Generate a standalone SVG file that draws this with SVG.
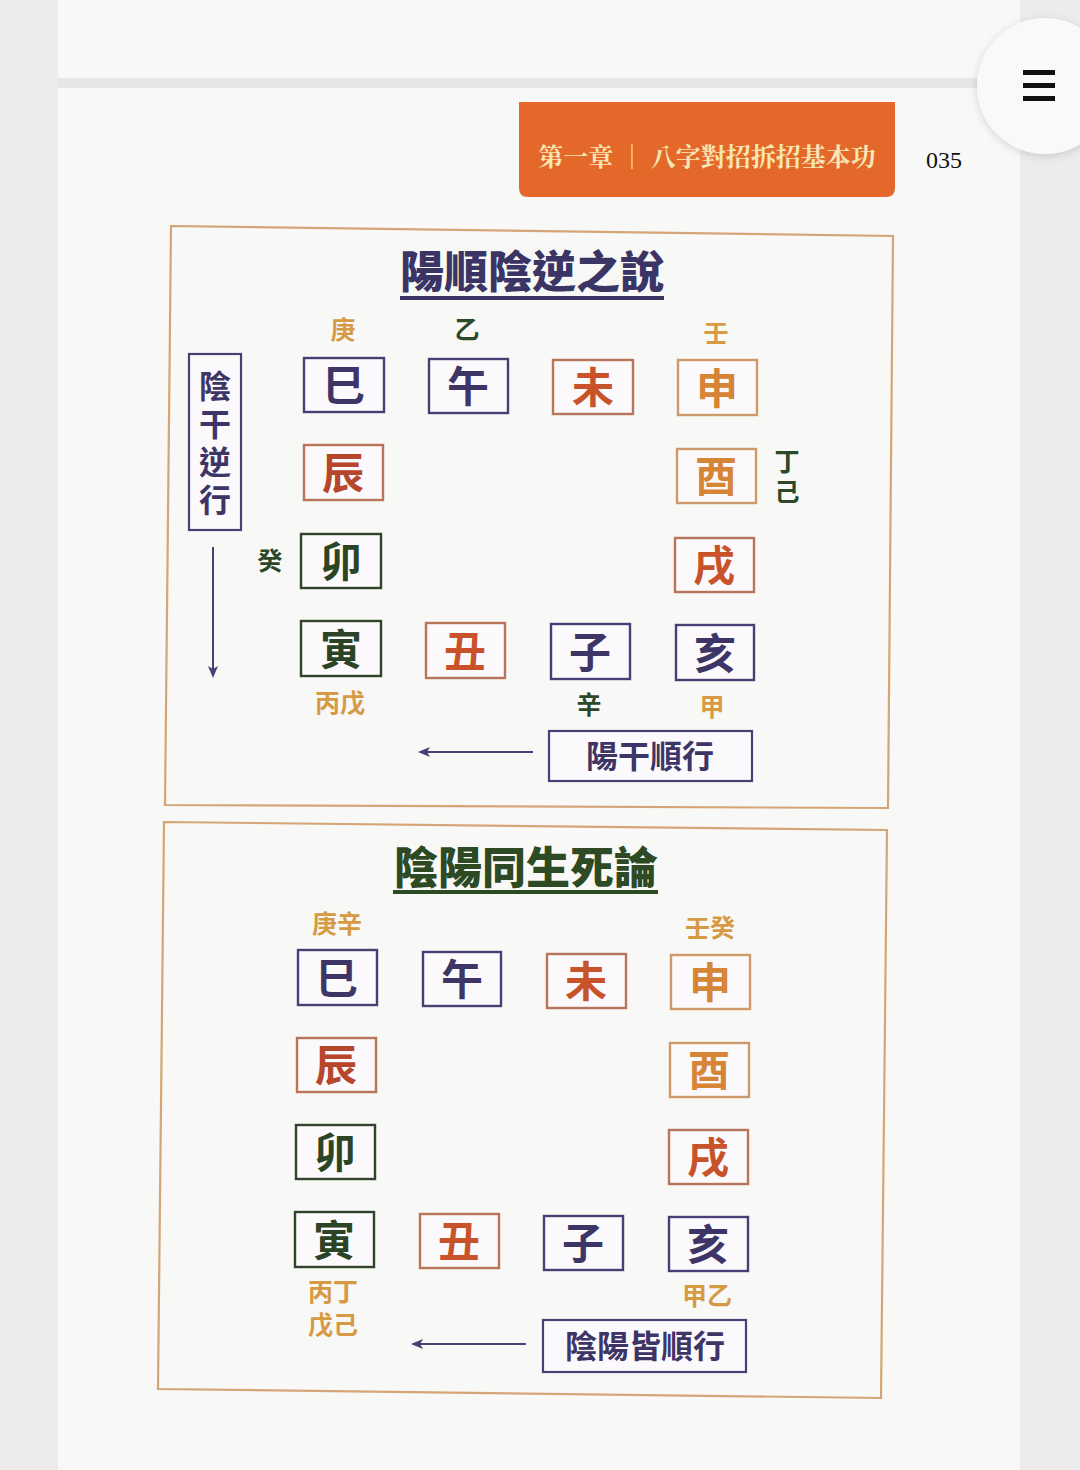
<svg xmlns="http://www.w3.org/2000/svg" width="1080" height="1470" viewBox="0 0 1080 1470">
<defs>
<style>
.cjk{font-family:"Noto Sans CJK TC","Noto Sans CJK SC",sans-serif;}
.frame{fill:none;stroke:#d4a577;stroke-width:2.2;}
.box{fill:#fbf9fb;stroke-width:2.4;}
.ch{font-family:"Noto Sans CJK TC","Noto Sans CJK SC",sans-serif;font-size:42px;font-weight:700;text-anchor:middle;}
.stem{font-family:"Noto Sans CJK TC","Noto Sans CJK SC",sans-serif;font-size:25px;font-weight:700;text-anchor:middle;}
.navy{stroke:#4a3f74;} .navyT{fill:#3e3567;}
.green{stroke:#2f4429;} .greenT{fill:#2c4426;}
.brown{stroke:#b8755a;} .brownT{fill:#b7472c;}
.tan{stroke:#cf9a6a;} .tanT{fill:#d68436;}
.redT{fill:#c8532a;}
.gold{fill:#d69a45;}
.dg{fill:#2d4729;}
.arrow{stroke:#4a3f74;stroke-width:2;fill:none;}
</style>
<marker id="ah" markerWidth="12" markerHeight="10" refX="10" refY="5" orient="auto" markerUnits="userSpaceOnUse">
<path d="M0,0 L12,5 L0,10 L3,5 Z" fill="#4a3f74"/>
</marker>
<filter id="sh" x="-30%" y="-30%" width="160%" height="160%">
<feDropShadow dx="0" dy="2" stdDeviation="4" flood-color="#000" flood-opacity="0.15"/>
</filter>
</defs>

<!-- page background -->
<rect x="0" y="0" width="1080" height="1470" fill="#ececec"/>
<rect x="58" y="0" width="962" height="1470" fill="#f8f8f6"/>
<rect x="58" y="78" width="922" height="10" fill="#e6e6e6"/>

<!-- menu button -->
<g id="menu">
<circle cx="1045" cy="86" r="68" fill="#f9f9f9" filter="url(#sh)"/>
<rect x="1023" y="70" width="32" height="5" fill="#111"/>
<rect x="1023" y="83" width="32" height="5" fill="#111"/>
<rect x="1023" y="96" width="32" height="5" fill="#111"/>
</g>

<!-- header -->
<g id="header">
<path d="M519,102 H895 V188 Q895,197 886,197 H528 Q519,197 519,188 Z" fill="#e4682a"/>
<text x="707" y="166" font-family="'Noto Serif CJK TC','Liberation Serif','Noto Sans CJK TC',serif" font-size="25" font-weight="700" fill="#f6e6b4" text-anchor="middle">第一章 ｜ 八字對招拆招基本功</text>
<text x="944" y="168" font-family="'Liberation Serif',serif" font-size="24" fill="#111" text-anchor="middle">035</text>
</g>

<!-- Panel 1 -->
<g id="panel1">
<path class="frame" d="M171,226 L893,236 L888,808 L165,805 Z"/>
<text class="cjk" x="532" y="288" font-size="44" font-weight="900" fill="#3b3566" text-anchor="middle">陽順陰逆之說</text>
<rect x="400" y="296" width="264" height="4" fill="#3b3566"/>
</g>

<g id="p1-stems">
<text class="stem gold" x="343" y="339">庚</text>
<text class="stem dg" x="467" y="339">乙</text>
<text class="stem gold" x="716" y="342">壬</text>
<text class="stem dg" x="787" y="479" writing-mode="vertical-rl" letter-spacing="5">丁己</text>
<text class="stem dg" x="270" y="570">癸</text>
<text class="stem gold" x="340" y="712">丙戊</text>
<text class="stem dg" x="589" y="714">辛</text>
<text class="stem gold" x="712" y="716">甲</text>
</g>

<g id="p1-si"><rect class="box navy" x="304" y="358" width="80" height="54"/><text class="ch navyT" x="344" y="401">巳</text></g>
<g id="p1-wu"><rect class="box navy" x="429" y="359" width="79" height="54"/><text class="ch navyT" x="468" y="402">午</text></g>
<g id="p1-wei"><rect class="box brown" x="553" y="360" width="80" height="54"/><text class="ch redT" x="593" y="403">未</text></g>
<g id="p1-shen"><rect class="box tan" x="678" y="360" width="79" height="55"/><text class="ch tanT" x="717" y="404">申</text></g>
<g id="p1-chen"><rect class="box brown" x="304" y="445" width="79" height="55"/><text class="ch brownT" x="343" y="489">辰</text></g>
<g id="p1-you"><rect class="box tan" x="677" y="449" width="79" height="54"/><text class="ch tanT" x="716" y="492">酉</text></g>
<g id="p1-mao"><rect class="box green" x="301" y="534" width="80" height="54"/><text class="ch greenT" x="341" y="577">卯</text></g>
<g id="p1-xu"><rect class="box brown" x="675" y="538" width="79" height="54"/><text class="ch redT" x="714" y="581">戌</text></g>
<g id="p1-yin"><rect class="box green" x="301" y="621" width="80" height="55"/><text class="ch greenT" x="341" y="665">寅</text></g>
<g id="p1-chou"><rect class="box brown" x="426" y="623" width="79" height="55"/><text class="ch redT" x="465" y="667">丑</text></g>
<g id="p1-zi"><rect class="box navy" x="551" y="624" width="79" height="55"/><text class="ch navyT" x="590" y="668">子</text></g>
<g id="p1-hai"><rect class="box navy" x="676" y="625" width="78" height="55"/><text class="ch navyT" x="715" y="669">亥</text></g>

<g id="p1-yinlabel">
<rect x="189" y="354" width="52" height="176" fill="#fbf9fb" stroke="#4a3f74" stroke-width="2.2"/>
<text class="cjk" x="215" y="446" writing-mode="vertical-rl" text-anchor="middle" letter-spacing="6" font-size="32" font-weight="700" fill="#3e3567">陰干逆行</text>
</g>
<g id="p1-yanglabel">
<rect x="549" y="731" width="203" height="50" fill="#fbf9fb" stroke="#4a3f74" stroke-width="2.2"/>
<text class="cjk" x="650" y="768" font-size="32" font-weight="700" fill="#3e3567" text-anchor="middle">陽干順行</text>
</g>

<!-- Panel 2 -->
<g id="panel2">
<path class="frame" d="M164,822 L887,830 L881,1398 L158,1389 Z"/>
<text class="cjk" x="526" y="884" font-size="44" font-weight="900" fill="#2d4a25" text-anchor="middle">陰陽同生死論</text>
<rect x="393" y="890" width="265" height="4" fill="#2d4a25"/>
</g>

<g id="p2-stems">
<text class="stem gold" x="337" y="933">庚辛</text>
<text class="stem gold" x="710" y="937">壬癸</text>
<text class="stem gold" x="333" y="1301">丙丁</text>
<text class="stem gold" x="333" y="1334">戊己</text>
<text class="stem gold" x="707" y="1305">甲乙</text>
</g>

<g id="p2-si"><rect class="box navy" x="298" y="950" width="79" height="55"/><text class="ch navyT" x="337" y="994">巳</text></g>
<g id="p2-wu"><rect class="box navy" x="423" y="952" width="78" height="54"/><text class="ch navyT" x="462" y="995">午</text></g>
<g id="p2-wei"><rect class="box brown" x="547" y="954" width="79" height="54"/><text class="ch redT" x="586" y="997">未</text></g>
<g id="p2-shen"><rect class="box tan" x="671" y="955" width="79" height="54"/><text class="ch tanT" x="710" y="998">申</text></g>
<g id="p2-chen"><rect class="box brown" x="297" y="1038" width="79" height="54"/><text class="ch brownT" x="336" y="1081">辰</text></g>
<g id="p2-you"><rect class="box tan" x="670" y="1043" width="79" height="54"/><text class="ch tanT" x="709" y="1086">酉</text></g>
<g id="p2-mao"><rect class="box green" x="296" y="1125" width="79" height="54"/><text class="ch greenT" x="335" y="1168">卯</text></g>
<g id="p2-xu"><rect class="box brown" x="669" y="1130" width="79" height="54"/><text class="ch redT" x="708" y="1173">戌</text></g>
<g id="p2-yin"><rect class="box green" x="295" y="1212" width="79" height="55"/><text class="ch greenT" x="334" y="1256">寅</text></g>
<g id="p2-chou"><rect class="box brown" x="420" y="1214" width="79" height="54"/><text class="ch redT" x="459" y="1257">丑</text></g>
<g id="p2-zi"><rect class="box navy" x="544" y="1216" width="79" height="54"/><text class="ch navyT" x="583" y="1259">子</text></g>
<g id="p2-hai"><rect class="box navy" x="669" y="1217" width="79" height="54"/><text class="ch navyT" x="708" y="1260">亥</text></g>

<g id="p2-label">
<rect x="543" y="1320" width="203" height="52" fill="#fbf9fb" stroke="#4a3f74" stroke-width="2.2"/>
<text class="cjk" x="645" y="1358" font-size="32" font-weight="700" fill="#3e3567" text-anchor="middle">陰陽皆順行</text>
</g>

<!-- connectors -->
<g id="connectors">
<line class="arrow" x1="213" y1="547" x2="213" y2="676" marker-end="url(#ah)"/>
<line class="arrow" x1="533" y1="752" x2="420" y2="752" marker-end="url(#ah)"/>
<line class="arrow" x1="526" y1="1344" x2="413" y2="1344" marker-end="url(#ah)"/>
</g>
</svg>
